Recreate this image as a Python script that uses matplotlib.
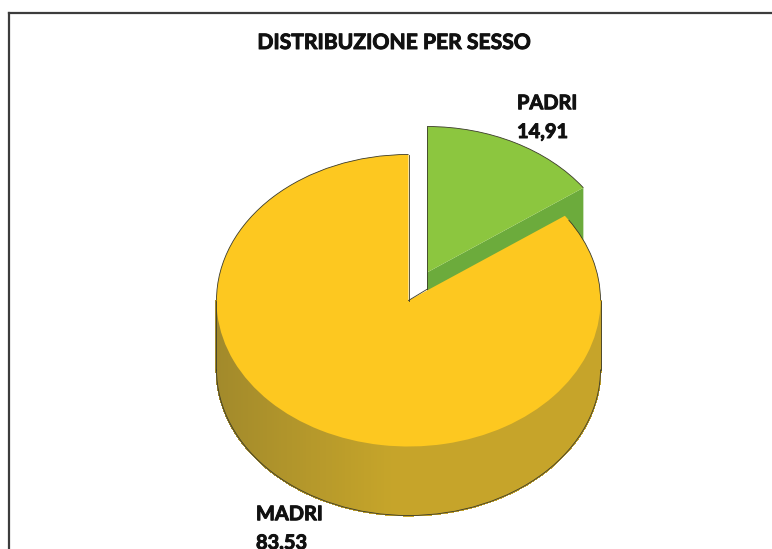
import numpy as np
import matplotlib
matplotlib.use("Agg")
import matplotlib.pyplot as plt
import matplotlib.patheffects as pe
from matplotlib.patches import Arc, Polygon
from matplotlib.collections import PolyCollection

# Share of respondents by sex
categories = ["PADRI", "MADRI"]
values = [14.91, 83.53]
title = "DISTRIBUZIONE PER SESSO"

W, H = 772, 549
CX, CY = 408.5, 300.5     # pie centre, pixels from the top left
RX, RY = 192.0, 146.0     # ellipse radii of the tilted disc
DEPTH = 69.0 / RY         # disc thickness in axis units
SHIFT = (18.5 / RX, 28.0 / RY)  # offset of the detached slice

fig = plt.figure(figsize=(W / 100, H / 100), dpi=100, facecolor="white")
ax = fig.add_axes([0, 0, 1, 1])

wedges, _ = ax.pie(values, colors=["#8cc63f", "#fdc820"], startangle=90,
                   counterclock=False, radius=1.0, center=(0, 0),
                   wedgeprops={"linewidth": 0})
green, yellow = wedges
green.set_center(SHIFT)
green.set_zorder(5)
yellow.set_zorder(6)

# Squash the unit circle into an ellipse and let the axes fill the figure
ax.set_aspect("auto")
ax.set_xlim(-CX / RX, (W - CX) / RX)
ax.set_ylim(-(H - CY) / RY, CY / RY)
ax.set_axis_off()

# Cut face of the detached slice, mostly hidden by the large slice
t = np.deg2rad(green.theta1)
rim = (SHIFT[0] + np.cos(t), SHIFT[1] + np.sin(t))
ax.add_patch(Polygon([SHIFT, rim, (rim[0], rim[1] - DEPTH),
                      (SHIFT[0], SHIFT[1] - DEPTH)],
                     closed=True, fc="#6cab3c", ec="none", zorder=4))

# Outer wall of the large slice, shaded in narrow vertical strips
angles = np.deg2rad(np.linspace(180, 360, 181))
strips, shades = [], []
c_edge = np.array([0.635, 0.54, 0.17])
c_mid = np.array([0.775, 0.645, 0.165])
for a0, a1 in zip(angles[:-1], angles[1:]):
    x0, x1 = np.cos(a0), np.cos(a1)
    y0, y1 = np.sin(a0), np.sin(a1)
    strips.append([(x0, y0), (x1, y1), (x1, y1 - DEPTH), (x0, y0 - DEPTH)])
    k = min(1.0, (np.cos(a0) + 1) / 0.9)
    shades.append(c_edge + (c_mid - c_edge) * k)
ax.add_collection(PolyCollection(strips, facecolors=shades, edgecolors=shades,
                                 linewidths=0.8, antialiaseds=False, zorder=3))

# Thin dark outlines along the rims and the cut edges
line = {"color": "#3a3a2a", "lw": 0.6, "zorder": 7}
ax.add_patch(Arc(SHIFT, 2, 2, theta1=green.theta1, theta2=green.theta2, **line))
ax.add_patch(Arc((0, 0), 2, 2, theta1=90, theta2=180, **line))
ax.add_patch(Arc((0, -DEPTH), 2, 2, theta1=180, theta2=360, **line))
ax.add_patch(Arc((0, 0), 2, 2, theta1=0, theta2=green.theta1 - 2, **line))
ax.plot([0, 0], [0, 1], **line)
ax.plot([SHIFT[0], SHIFT[0]], [SHIFT[1] - 0.115, SHIFT[1] + 1], **line)
ax.plot([0, SHIFT[0]], [0, SHIFT[1] - 0.115], **line)
for side in (-1, 1):
    ax.plot([side, side], [0, -DEPTH], **line)

# Outer frame: only its top and left sides fall inside the figure
fig.add_artist(plt.Line2D([8.5 / W, 1], [1 - 12.5 / H] * 2,
                          transform=fig.transFigure, color="#3c3c3c", lw=1.6))
fig.add_artist(plt.Line2D([8.5 / W] * 2, [0, 1 - 12.5 / H],
                          transform=fig.transFigure, color="#3c3c3c", lw=1.6))

text = {"family": "Lato", "weight": "bold", "color": "#111111",
        "transform": fig.transFigure, "zorder": 9,
        "path_effects": [pe.withStroke(linewidth=0.7, foreground="#111111")]}
fig_text = lambda x, y, s, size, **kw: ax.text(x / W, 1 - y / H, s, fontsize=size,
                                               **text, **kw)

def label(name, value):
    return f"{name}\n{value:.2f}".replace(".", ",")

fig_text(394.5, 43, title, 15.2, ha="center", va="center", clip_on=False)
fig_text(517, 138, label(categories[0], values[0]), 14.4, ha="left", va="baseline",
         linespacing=1.55)
fig_text(256, 549, label(categories[1], values[1]), 14.4, ha="left", va="baseline",
         linespacing=1.55)

fig.savefig("out.png", dpi=100, facecolor="white")
